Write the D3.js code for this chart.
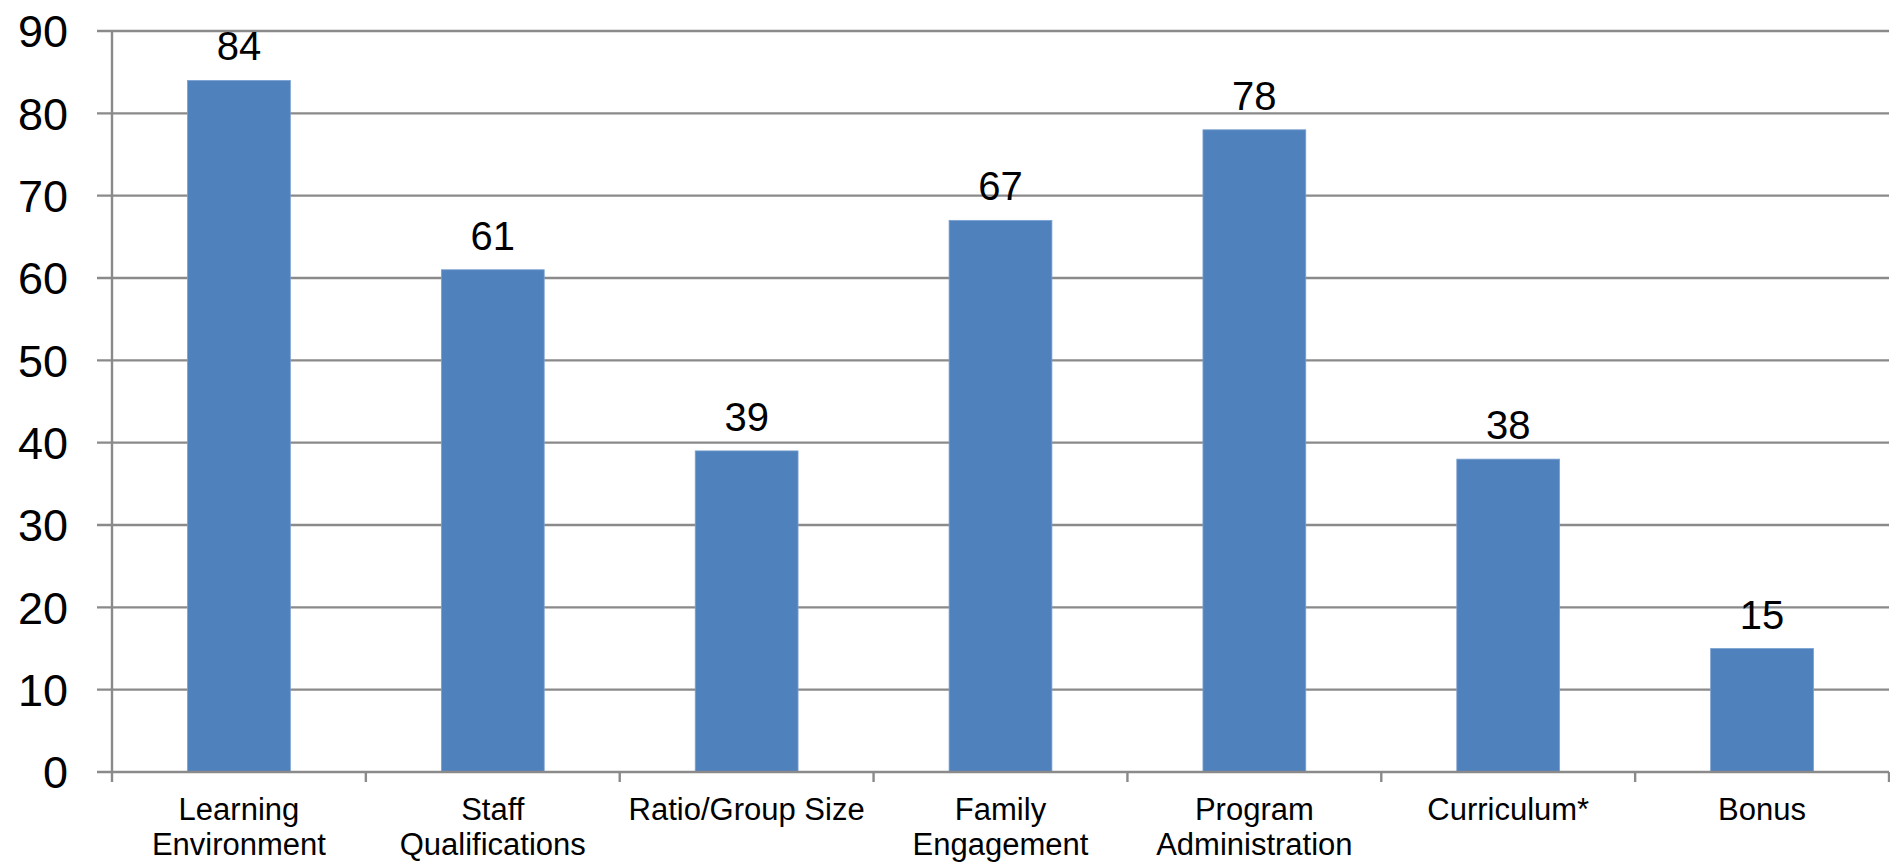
<!DOCTYPE html>
<html>
<head>
<meta charset="utf-8">
<script src="https://cdn.jsdelivr.net/npm/d3@7"></script>
<style>
  html, body { margin: 0; padding: 0; background: #fff; }
  svg { display: block; font-family: "Liberation Sans", Arial, sans-serif; }
</style>
</head>
<body>
<svg id="chart" width="1890" height="864"></svg>
<script>
const categories = [
  ["Learning", "Environment"],
  ["Staff", "Qualifications"],
  ["Ratio/Group Size"],
  ["Family", "Engagement"],
  ["Program", "Administration"],
  ["Curriculum*"],
  ["Bonus"]
];
const values = [84, 61, 39, 67, 78, 38, 15];
const yTicks = [0, 10, 20, 30, 40, 50, 60, 70, 80, 90];

(function () {
const svg = d3.select("#chart");
const mLeft = 112, mRight = 1889, mTop = 31, mBottom = 772;

const x = d3.scaleBand()
  .domain(d3.range(categories.length))
  .range([mLeft, mRight])
  .paddingInner(0.595)
  .paddingOuter(0.2975);

const y = d3.scaleLinear().domain([0, 90]).range([mBottom, mTop]);

const gridColor = "#8a8a8a";

// gridlines (with left tick extension)
svg.append("g").selectAll("line")
  .data(yTicks.filter(d => d > 0))
  .join("line")
  .attr("x1", mLeft - 15).attr("x2", mRight)
  .attr("y1", d => y(d)).attr("y2", d => y(d))
  .attr("stroke", gridColor).attr("stroke-width", 2.4);

// y axis line
svg.append("line")
  .attr("x1", mLeft).attr("x2", mLeft)
  .attr("y1", mTop).attr("y2", mBottom)
  .attr("stroke", gridColor).attr("stroke-width", 2.4);

// bars
svg.append("g").selectAll("rect")
  .data(values)
  .join("rect")
  .attr("x", (d, i) => x(i))
  .attr("width", x.bandwidth())
  .attr("y", d => y(d))
  .attr("height", d => y(0) - y(d))
  .attr("fill", "#4f81bd")
  .attr("stroke", "#7ba0d0")
  .attr("stroke-width", 0.8);

// x axis line (with left extension)
svg.append("line")
  .attr("x1", mLeft - 15).attr("x2", mRight)
  .attr("y1", mBottom).attr("y2", mBottom)
  .attr("stroke", gridColor).attr("stroke-width", 2.4);

// category ticks at band boundaries
const boundaries = d3.range(categories.length + 1).map(i => mLeft + i * (mRight - mLeft) / categories.length);
svg.append("g").selectAll("line")
  .data(boundaries)
  .join("line")
  .attr("x1", d => d).attr("x2", d => d)
  .attr("y1", mBottom).attr("y2", mBottom + 10)
  .attr("stroke", gridColor).attr("stroke-width", 2.4);

// y tick labels
svg.append("g").selectAll("text")
  .data(yTicks)
  .join("text")
  .attr("x", 68)
  .attr("y", d => y(d))
  .attr("dy", "0.36em")
  .attr("text-anchor", "end")
  .attr("font-size", 45)
  .attr("fill", "#000")
  .text(d => d);

// data labels
svg.append("g").selectAll("text")
  .data(values)
  .join("text")
  .attr("x", (d, i) => x(i) + x.bandwidth() / 2)
  .attr("y", d => y(d) - 20)
  .attr("text-anchor", "middle")
  .attr("font-size", 40)
  .attr("fill", "#000")
  .text(d => d);

// category labels
const catG = svg.append("g").selectAll("text")
  .data(categories)
  .join("text")
  .attr("text-anchor", "middle")
  .attr("font-size", 31)
  .attr("fill", "#000");
catG.each(function (lines, i) {
  const cx = x(i) + x.bandwidth() / 2;
  d3.select(this).selectAll("tspan")
    .data(lines)
    .join("tspan")
    .attr("x", cx)
    .attr("y", (d, j) => 820 + j * 35)
    .text(d => d);
});
})();
</script>
</body>
</html>
